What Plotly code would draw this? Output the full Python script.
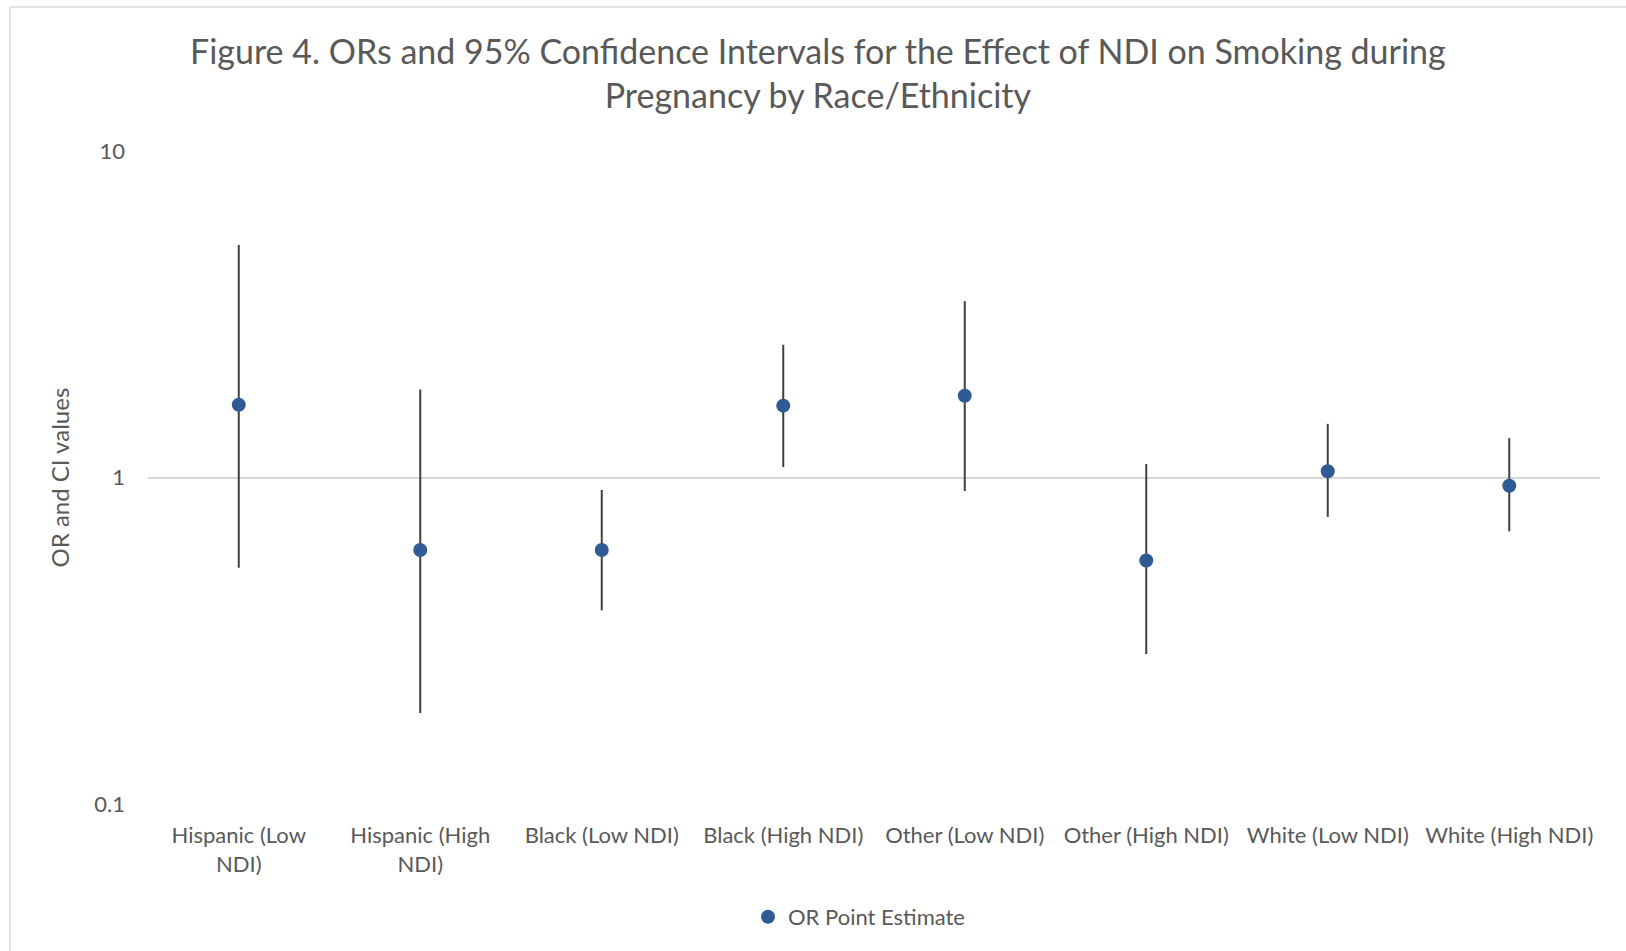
import plotly.graph_objects as go

categories = ["Hispanic (Low<br>NDI)", "Hispanic (High<br>NDI)", "Black (Low NDI)", "Black (High NDI)",
              "Other (Low NDI)", "Other (High NDI)", "White (Low NDI)", "White (High NDI)"]
or_point = [1.67, 0.60, 0.60, 1.66, 1.78, 0.557, 1.045, 0.943]
ci_upper = [5.15, 1.86, 0.916, 2.55, 3.47, 1.10, 1.46, 1.32]
ci_lower = [0.529, 0.19, 0.392, 1.076, 0.909, 0.288, 0.757, 0.684]

err_plus = [u - p for u, p in zip(ci_upper, or_point)]
err_minus = [p - l for p, l in zip(or_point, ci_lower)]

W, H = 1626, 951
L, R, T, B = 148, 26, 151, 147
pw, ph = W - L - R, H - T - B

FONT = "Lato"
GRAY = "#595959"

fig = go.Figure()
fig.add_trace(go.Scatter(
    x=categories, y=or_point, mode="markers", name="OR Point Estimate",
    marker=dict(color="#2F5B95", size=14),
    error_y=dict(type="data", symmetric=False, array=err_plus, arrayminus=err_minus,
                 color="#404040", thickness=2, width=0),
))

fig.update_layout(
    width=W, height=H,
    margin=dict(l=L, r=R, t=T, b=B, autoexpand=False),
    paper_bgcolor="white", plot_bgcolor="white",
    font=dict(family=FONT, color=GRAY, size=22),
    title=dict(text="Figure 4. ORs and 95% Confidence Intervals for the Effect of NDI on Smoking during<br>Pregnancy by Race/Ethnicity",
               x=0.503, xanchor="center", y=1 - 64 / H, yanchor="middle",
               font=dict(size=34, family=FONT, color=GRAY)),
    showlegend=True,
    legend=dict(orientation="h", x=(859 - L) / pw, xanchor="center", y=-113 / ph, yanchor="middle",
                font=dict(size=22, color=GRAY), itemsizing="trace", itemwidth=30),
    xaxis=dict(type="category", range=[-0.5, 7.5], showgrid=False, showline=False, zeroline=False,
               ticks="", ticklabelstandoff=16, tickfont=dict(size=22, color=GRAY)),
    yaxis=dict(type="log", range=[-1, 1], tickvals=[0.1, 1, 10], ticktext=["0.1", "1", "10"],
               showgrid=True, gridcolor="#D9D9D9", gridwidth=1.5, showline=False, zeroline=False,
               ticks="", ticklabelstandoff=22, tickfont=dict(size=22, color=GRAY)),
    annotations=[dict(text="OR and CI values", textangle=-90, xref="paper", yref="paper",
                      x=(59 - L) / pw, y=0.5, xanchor="center", yanchor="middle", showarrow=False,
                      font=dict(size=24, color=GRAY))],
    shapes=[
        dict(type="line", xref="paper", yref="paper", x0=(10 - L) / pw, x1=(10 - L) / pw,
             y0=1 + (T - 7) / ph, y1=-(B + 10) / ph, line=dict(color="#D9D9D9", width=1.5)),
        dict(type="line", xref="paper", yref="paper", x0=(10 - L) / pw, x1=(W + 10 - L) / pw,
             y0=1 + (T - 7) / ph, y1=1 + (T - 7) / ph, line=dict(color="#D9D9D9", width=1.5)),
    ],
)

fig.write_html("out.html")
